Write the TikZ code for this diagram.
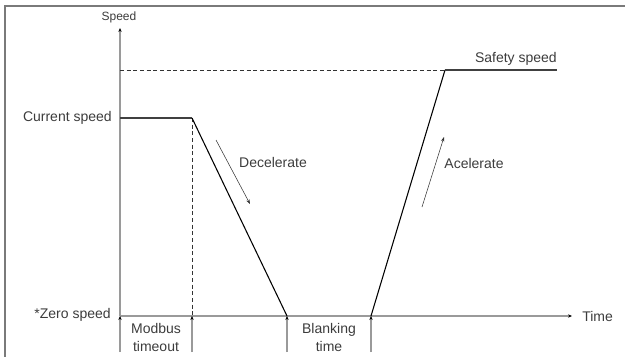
\documentclass[tikz,border=0pt]{standalone}
\usepackage{fontspec}
\setmainfont{Liberation Sans}
\usetikzlibrary{arrows.meta}
\definecolor{txtgray}{HTML}{3C3C3C}
\definecolor{axisgray}{HTML}{9A9A9A}
\definecolor{framegray}{HTML}{7A7A7A}
\begin{document}
\begin{tikzpicture}
[
x=0.75pt, y=-0.75pt,
label/.style={
% The text:
text=txtgray,
font=\fontsize{10.5}{12.5}\selectfont,
inner sep=0pt,
},
smalllabel/.style={
label,
font=\fontsize{9}{11}\selectfont,
},
axis/.style={
% The line:
draw=axisgray,
line width=0.8pt,
% The tip:
-{Stealth[length=3pt, width=2.5pt, black]},
},
ticker/.style={
draw=axisgray,
line width=0.8pt,
-{Stealth[length=3pt, width=2.5pt, black]},
},
profile/.style={
% The line:
draw=black,
line width=0.8pt,
},
guide/.style={
% The line:
draw=black!80,
line width=0.7pt,
dash pattern=on 3pt off 2pt,
},
hint/.style={
% The line:
draw=black!80,
line width=0.4pt,
-{Stealth[length=3.5pt, width=2.5pt]},
}
]
    \useasboundingbox (0, 0) rectangle (625, 357);
    % frame
    \draw[framegray, line width=1pt] (5, 357) -- (5, 6) -- (625, 6);

    % points of the speed curve
    \coordinate (o) at (120, 316);
    \coordinate (ytop) at (120, 28);
    \coordinate (xend) at (572, 316);
    \coordinate (cur) at (120, 118);
    \coordinate (dec) at (192, 118);
    \coordinate (decfoot) at (192, 316);
    \coordinate (zero) at (287, 316);
    \coordinate (acc) at (371, 316);
    \coordinate (safe) at (445, 70);
    \coordinate (safestart) at (120, 70);
    \coordinate (safeend) at (557, 70);
    \coordinate (t0) at (120, 352);
    \coordinate (t1) at (192, 352);
    \coordinate (t2) at (287, 352);
    \coordinate (t3) at (371, 352);
    \coordinate (dh1) at (216, 140);
    \coordinate (dh2) at (250, 204);
    \coordinate (ah1) at (422, 207);
    \coordinate (ah2) at (444, 137);

    % labels
    \node[smalllabel] (speed) at (119, 17) {Speed};
    \node[label, anchor=east] (current) at (112, 118) {Current speed};
    \node[label, anchor=east] (zerolbl) at (111, 315) {*Zero speed};
    \node[label, anchor=east] (safety) at (557, 59) {Safety speed};
    \node[label, anchor=west] (time) at (582, 316) {Time};
    \node[label] (decel) at (273, 162) {Decelerate};
    \node[label] (accel) at (474, 163) {Acelerate};
    \node[label, align=center] (modbus) at (156, 337) {Modbus\\[1pt]timeout};
    \node[label, align=center] (blank) at (329, 337) {Blanking\\[1pt]time};

    % axes
    \draw[axis] (o) -- (ytop);
    \draw[axis] (o) -- (xend);
    \foreach \t/\p in {t0/o, t1/decfoot, t2/zero, t3/acc}
        \draw[ticker] (\t) -- (\p);

    % speed curve
    \draw[guide] (safestart) -- (safe);
    \draw[guide] (dec) -- (decfoot);
    \draw[profile, draw=black!75] (cur) -- (dec);
    \draw[profile] (dec) -- (zero);
    \draw[profile] (acc) -- (safe);
    \draw[profile, draw=black!75] (safe) -- (safeend);
    \draw[hint] (dh1) -- (dh2);
    \draw[hint] (ah1) -- (ah2);
\end{tikzpicture}
\end{document}
